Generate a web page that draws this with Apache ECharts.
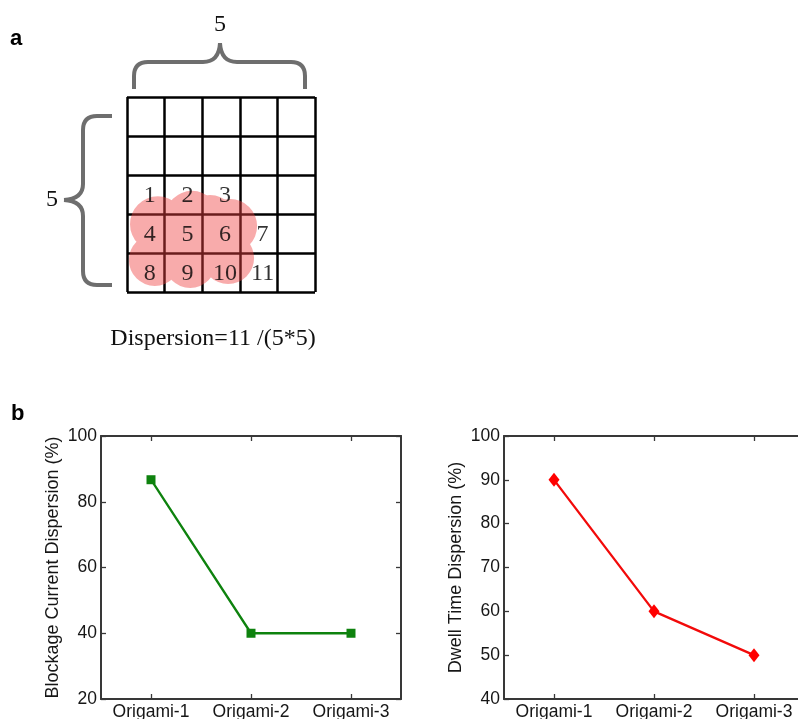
<!DOCTYPE html>
<html>
<head>
<meta charset="utf-8">
<script src="https://cdn.jsdelivr.net/npm/echarts@6/dist/echarts.min.js"></script>
<style>
  html, body { margin: 0; padding: 0; background: #ffffff; }
  #chart { width: 798px; height: 719px; }
</style>
</head>
<body>
<div id="chart"></div>
<script>
// ---- panel a: 5 x 5 grid with the numbered cells covered by the stain ----
const gridCells = 5;
const cellNumbers = ['1', '2', '3', '4', '5', '6', '7', '8', '9', '10', '11'];
const cellColumns = [0, 1, 2, 0, 1, 2, 3, 0, 1, 2, 3];
const cellRows    = [2, 2, 2, 3, 3, 3, 3, 4, 4, 4, 4];
// stain outline as overlapping discs: [column, row, radius] in cell units
const stainDiscs = [
  [0.82, 3.26, 0.74],
  [0.74, 4.18, 0.69],
  [1.68, 4.23, 0.69],
  [2.69, 4.13, 0.69],
  [2.74, 3.31, 0.72],
  [1.73, 3.10, 0.72],
  [2.21, 3.21, 0.72],
  [1.81, 3.79, 0.80]
];
const dispersionNote = 'Dispersion=11 /(5*5)';

// ---- panel b: dispersion per origami design ----
const origamiLabels = ['Origami-1', 'Origami-2', 'Origami-3'];
const blockageDispersion = [86.7, 40, 40];
const dwellDispersion = [90, 60, 50];
const blockageTicks = [20, 40, 60, 80, 100];
const dwellTicks = [40, 50, 60, 70, 80, 90, 100];

const SANS = "'Liberation Sans', Arial, Helvetica, sans-serif";
const SERIF = "'Liberation Serif', 'Times New Roman', Times, serif";
const AXIS_COLOR = '#383838';
const TEXT_COLOR = '#161616';

const chart = echarts.init(document.getElementById('chart'), null, { renderer: 'canvas' });

function tickRange(ticks) {
  return { min: ticks[0], max: ticks[ticks.length - 1], interval: ticks[1] - ticks[0] };
}

function boxXAxes(gridIndex) {
  const line = { show: true, lineStyle: { color: AXIS_COLOR, width: 2 } };
  const tick = { show: true, inside: true, length: 5, alignWithLabel: true, lineStyle: { color: AXIS_COLOR, width: 1.3 } };
  return [
    {
      gridIndex, type: 'category', data: origamiLabels, position: 'bottom', boundaryGap: true,
      axisLine: line, axisTick: tick, splitLine: { show: false },
      axisLabel: { show: true, margin: 4, fontSize: 17.5, fontFamily: SANS, color: TEXT_COLOR, interval: 0 }
    },
    {
      gridIndex, type: 'category', data: origamiLabels, position: 'top', boundaryGap: true,
      axisLine: line, axisTick: tick, splitLine: { show: false }, axisLabel: { show: false }
    }
  ];
}

function boxYAxes(gridIndex, ticks, name) {
  const r = tickRange(ticks);
  const line = { show: true, onZero: false, lineStyle: { color: AXIS_COLOR, width: 2 } };
  const tick = { show: true, inside: true, length: 5, lineStyle: { color: AXIS_COLOR, width: 1.3 } };
  return [
    {
      gridIndex, type: 'value', position: 'left', min: r.min, max: r.max, interval: r.interval,
      name, nameLocation: 'middle', nameGap: 39, nameRotate: 90,
      nameTextStyle: { fontSize: 18, fontFamily: SANS, color: TEXT_COLOR },
      axisLine: line, axisTick: tick, splitLine: { show: false },
      axisLabel: { margin: 4, fontSize: 17.5, fontFamily: SANS, color: TEXT_COLOR }
    },
    {
      gridIndex, type: 'value', position: 'right', min: r.min, max: r.max, interval: r.interval,
      axisLine: line, axisTick: tick, splitLine: { show: false }, axisLabel: { show: false }
    }
  ];
}

const cellLine = { show: true, lineStyle: { color: '#000000', width: 2.5 } };

const option = {
  animation: false,
  backgroundColor: '#ffffff',
  grid: [
    { left: 127, top: 97, width: 188, height: 195, outerBoundsMode: 'none' },
    { left: 101, top: 436, width: 300, height: 263, outerBoundsMode: 'none' },
    { left: 504, top: 436, width: 300, height: 263, outerBoundsMode: 'none' }
  ],
  xAxis: [
    {
      gridIndex: 0, type: 'value', min: 0, max: gridCells, interval: 1,
      axisLine: { show: false }, axisTick: { show: false }, axisLabel: { show: false },
      splitLine: cellLine
    },
    ...boxXAxes(1),
    ...boxXAxes(2)
  ],
  yAxis: [
    {
      gridIndex: 0, type: 'value', min: 0, max: gridCells, interval: 1, inverse: true,
      axisLine: { show: false }, axisTick: { show: false }, axisLabel: { show: false },
      splitLine: cellLine
    },
    ...boxYAxes(1, blockageTicks, 'Blockage Current Dispersion (%)'),
    ...boxYAxes(2, dwellTicks, 'Dwell Time Dispersion (%)')
  ],
  series: [
    {
      // the stain: one path made of all discs so overlaps are filled once
      type: 'custom',
      xAxisIndex: 0, yAxisIndex: 0,
      z: 2,
      silent: true,
      data: stainDiscs,
      renderItem: function (params, api) {
        if (params.dataIndex !== 0) return null;
        let d = '';
        stainDiscs.forEach(function (disc) {
          const c = api.coord([disc[0], disc[1]]);
          const rad = api.size([disc[2], 0])[0];
          d += 'M' + (c[0] - rad) + ' ' + c[1] +
               ' A' + rad + ' ' + rad + ' 0 1 0 ' + (c[0] + rad) + ' ' + c[1] +
               ' A' + rad + ' ' + rad + ' 0 1 0 ' + (c[0] - rad) + ' ' + c[1] + ' Z ';
        });
        return {
          type: 'path',
          shape: { pathData: d },
          style: { fill: 'rgba(238, 64, 64, 0.44)', stroke: null }
        };
      }
    },
    {
      // cell numbers
      type: 'scatter',
      xAxisIndex: 0, yAxisIndex: 0,
      z: 3,
      symbolSize: 1,
      itemStyle: { color: 'rgba(0,0,0,0)' },
      data: cellNumbers.map(function (n, i) { return [cellColumns[i] + 0.5, cellRows[i] + 0.5, n]; }),
      label: {
        show: true, position: 'inside', offset: [4, 1],
        formatter: function (p) { return p.data[2]; },
        fontFamily: SERIF, fontSize: 24, color: '#000000'
      }
    },
    {
      type: 'line',
      xAxisIndex: 1, yAxisIndex: 1,
      data: blockageDispersion,
      symbol: 'rect', symbolSize: 9,
      itemStyle: { color: '#0e820e' },
      lineStyle: { color: '#0e820e', width: 2.3 }
    },
    {
      type: 'line',
      xAxisIndex: 3, yAxisIndex: 3,
      data: dwellDispersion,
      symbol: 'diamond', symbolSize: [11, 14],
      itemStyle: { color: '#ff0000' },
      lineStyle: { color: '#f20a0a', width: 2.3 }
    }
  ],
  graphic: [
    { type: 'text', left: 10, top: 28, style: { text: 'a', font: "bold 22px " + SANS, fill: '#000' } },
    { type: 'text', left: 11, top: 403, style: { text: 'b', font: "bold 22px " + SANS, fill: '#000' } },
    { type: 'text', x: 220, y: 25, style: { text: '5', font: "24px " + SERIF, fill: '#111', align: 'center', verticalAlign: 'middle' } },
    { type: 'text', x: 52, y: 200, style: { text: '5', font: "24px " + SERIF, fill: '#111', align: 'center', verticalAlign: 'middle' } },
    { type: 'text', x: 213, y: 339, style: { text: dispersionNote, font: "24px " + SERIF, fill: '#111', align: 'center', verticalAlign: 'middle' } },
    // horizontal brace above the grid
    {
      type: 'group',
      children: [
        { type: 'line', shape: { x1: 134, y1: 89, x2: 134, y2: 76 } },
        { type: 'bezierCurve', shape: { x1: 134, y1: 76, cpx1: 134, cpy1: 62, x2: 148, y2: 62 } },
        { type: 'line', shape: { x1: 148, y1: 62, x2: 203, y2: 62 } },
        { type: 'bezierCurve', shape: { x1: 203, y1: 62, cpx1: 219, cpy1: 62, x2: 220, y2: 43 } },
        { type: 'bezierCurve', shape: { x1: 220, y1: 43, cpx1: 221, cpy1: 62, x2: 237, y2: 62 } },
        { type: 'line', shape: { x1: 237, y1: 62, x2: 291, y2: 62 } },
        { type: 'bezierCurve', shape: { x1: 291, y1: 62, cpx1: 305, cpy1: 62, x2: 305, y2: 76 } },
        { type: 'line', shape: { x1: 305, y1: 76, x2: 305, y2: 89 } }
      ].map(function (el) {
        el.style = { stroke: '#6e6e6e', lineWidth: 4, fill: null, lineCap: 'butt' };
        return el;
      })
    },
    // vertical brace left of the grid
    {
      type: 'group',
      children: [
        { type: 'line', shape: { x1: 112, y1: 116, x2: 97, y2: 116 } },
        { type: 'bezierCurve', shape: { x1: 97, y1: 116, cpx1: 83, cpy1: 116, x2: 83, y2: 130 } },
        { type: 'line', shape: { x1: 83, y1: 130, x2: 83, y2: 184 } },
        { type: 'bezierCurve', shape: { x1: 83, y1: 184, cpx1: 83, cpy1: 199, x2: 64, y2: 200 } },
        { type: 'bezierCurve', shape: { x1: 64, y1: 200, cpx1: 83, cpy1: 201, x2: 83, y2: 216 } },
        { type: 'line', shape: { x1: 83, y1: 216, x2: 83, y2: 271 } },
        { type: 'bezierCurve', shape: { x1: 83, y1: 271, cpx1: 83, cpy1: 285, x2: 97, y2: 285 } },
        { type: 'line', shape: { x1: 97, y1: 285, x2: 112, y2: 285 } }
      ].map(function (el) {
        el.style = { stroke: '#6e6e6e', lineWidth: 4, fill: null, lineCap: 'butt' };
        return el;
      })
    }
  ]
};

chart.setOption(option);
</script>
</body>
</html>
